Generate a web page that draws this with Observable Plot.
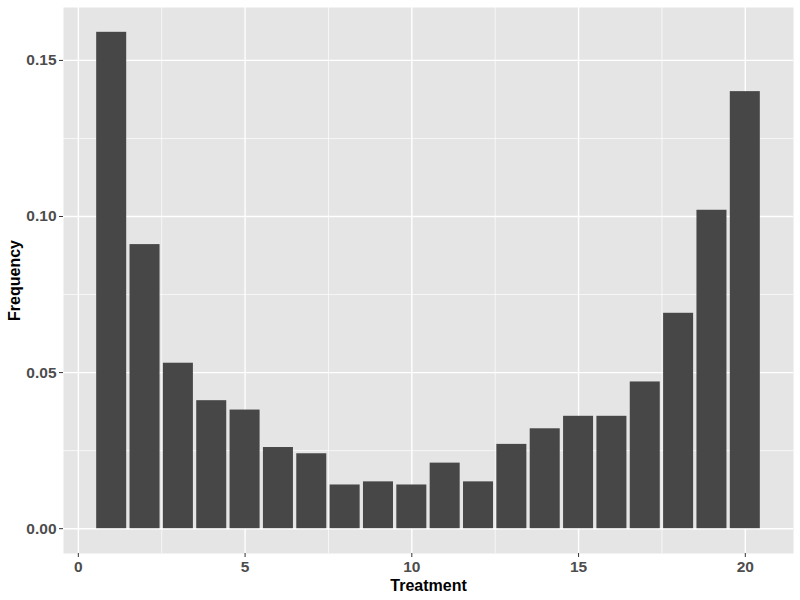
<!DOCTYPE html>
<html>
<head>
<meta charset="utf-8">
<script src="https://cdn.jsdelivr.net/npm/d3@7"></script>
<script src="https://cdn.jsdelivr.net/npm/@observablehq/plot@0.6"></script>
<style>
  html, body { margin: 0; padding: 0; background: #fff; }
</style>
</head>
<body>
<div id="chart"></div>
<script>
const treatments = [1,2,3,4,5,6,7,8,9,10,11,12,13,14,15,16,17,18,19,20];
const frequencies = [0.159,0.091,0.053,0.041,0.038,0.026,0.024,0.014,0.015,0.014,0.021,0.015,0.027,0.032,0.036,0.036,0.047,0.069,0.102,0.140];
const xTicks = [0,5,10,15,20];
const xMinor = [2.5,7.5,12.5,17.5];
const yTicks = [0,0.05,0.10,0.15];
const yMinor = [0.025,0.075,0.125];

const data = treatments.map((t,i) => ({t, f: frequencies[i]}));
const barWidth = 0.9;
const xlo = 1 - barWidth/2, xhi = 20 + barWidth/2;
const xpad = (xhi - xlo) * 0.05;
const ymax = d3.max(frequencies);
const ypad = ymax * 0.05;

const font = "Liberation Sans, Arial, sans-serif";

const chart = Plot.plot({
  width: 800,
  height: 600,
  marginLeft: 63,
  marginRight: 7,
  marginTop: 7,
  marginBottom: 47,
  style: {fontFamily: font, background: "#fff"},
  x: {domain: [xlo - xpad, xhi + xpad]},
  y: {domain: [-ypad, ymax + ypad]},
  marks: [
    Plot.frame({fill: "#E5E5E5", stroke: null}),
    Plot.ruleX(xMinor, {stroke: "#fff", strokeWidth: 0.7}),
    Plot.ruleY(yMinor, {stroke: "#fff", strokeWidth: 0.7}),
    Plot.ruleX(xTicks, {stroke: "#fff", strokeWidth: 1.4}),
    Plot.ruleY(yTicks, {stroke: "#fff", strokeWidth: 1.4}),
    Plot.rectY(data, {x1: d => d.t - barWidth/2, x2: d => d.t + barWidth/2, y: "f", fill: "#474747"}),
    Plot.axisX({ticks: xTicks, tickSize: 4, tickPadding: 3, stroke: "#333", fill: "#4D4D4D", fontSize: 15.5, fontWeight: "bold", label: null, tickFormat: d3.format("d")}),
    Plot.axisY({ticks: yTicks, tickSize: 4, tickPadding: 3, stroke: "#333", fill: "#4D4D4D", fontSize: 15.5, fontWeight: "bold", label: null, tickFormat: d3.format(".2f")}),
    Plot.text(["Treatment"], {frameAnchor: "bottom", lineAnchor: "middle", textAnchor: "middle", dy: 32, fontSize: 16, fontWeight: "bold", fill: "#000"}),
    Plot.text(["Frequency"], {frameAnchor: "left", lineAnchor: "middle", textAnchor: "middle", dx: -49, rotate: -90, fontSize: 16, fontWeight: "bold", fill: "#000"})
  ]
});
document.getElementById("chart").appendChild(chart);
</script>
</body>
</html>
